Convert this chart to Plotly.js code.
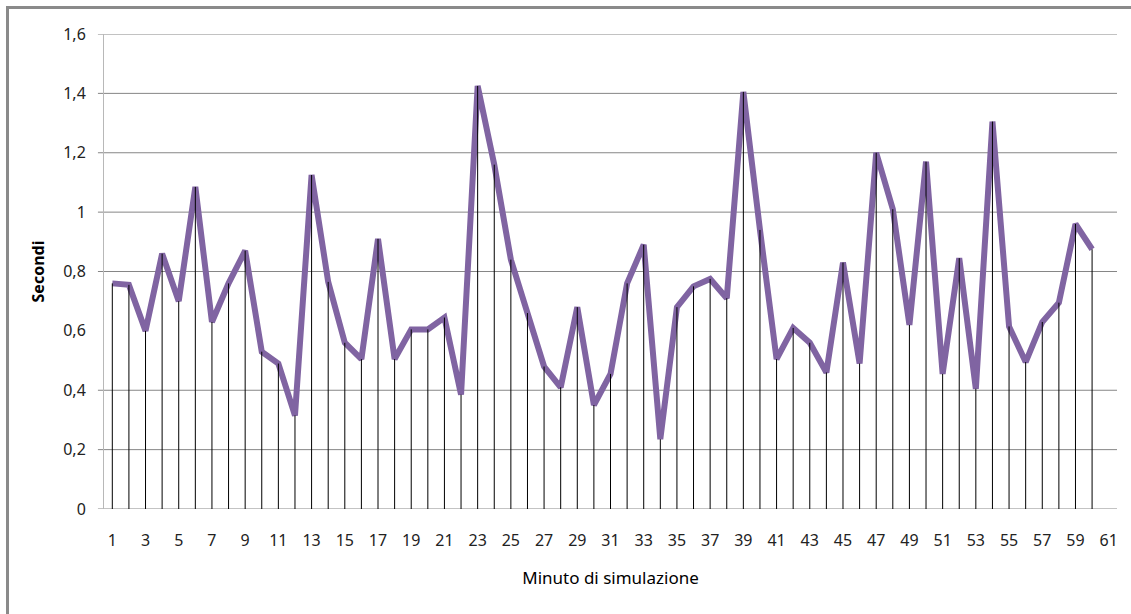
<!DOCTYPE html>
<html>
<head>
<meta charset="utf-8">
<script src="https://cdn.plot.ly/plotly-3.0.1.min.js"></script>
<style>
  html, body { margin: 0; padding: 0; background: #fff; }
  #wrap { position: relative; width: 1131px; height: 614px; }
  #chart { width: 1131px; height: 614px; }
  #frame { position: absolute; left: 6px; top: 6px; right: -10px; bottom: -10px;
           border-left: 3px solid #8a8a8a; border-top: 3px solid #8a8a8a; pointer-events: none; }
</style>
</head>
<body>
<div id="wrap">
  <div id="chart"></div>
  <div id="frame"></div>
</div>
<script>
const minutes = [1,2,3,4,5,6,7,8,9,10,11,12,13,14,15,16,17,18,19,20,
                 21,22,23,24,25,26,27,28,29,30,31,32,33,34,35,36,37,38,39,40,
                 41,42,43,44,45,46,47,48,49,50,51,52,53,54,55,56,57,58,59,60];
const seconds = [0.76,0.755,0.60,0.86,0.70,1.085,0.63,0.76,0.87,0.53,
                 0.49,0.315,1.125,0.765,0.56,0.505,0.91,0.505,0.605,0.605,
                 0.645,0.385,1.425,1.16,0.84,0.66,0.48,0.41,0.68,0.35,
                 0.455,0.76,0.89,0.235,0.68,0.75,0.775,0.71,1.405,0.94,
                 0.505,0.61,0.56,0.46,0.83,0.49,1.2,1.01,0.62,1.17,
                 0.455,0.845,0.405,1.305,0.615,0.495,0.63,0.695,0.96,0.875];
const xTickVals = [1,3,5,7,9,11,13,15,17,19,21,23,25,27,29,31,33,35,37,39,41,43,45,47,49,51,53,55,57,59,61];
const yTickVals = [0,0.2,0.4,0.6,0.8,1.0,1.2,1.4,1.6];
const yTickText = ["0","0,2","0,4","0,6","0,8","1","1,2","1,4","1,6"];
const gridVals = [0,0.2,0.4,0.8,1.0,1.2,1.4,1.6];

const font = '"Noto Sans", "Open Sans", sans-serif';

const lineTrace = {
  x: minutes, y: seconds, type: 'scatter', mode: 'lines',
  line: {color: '#8064A2', width: 6},
  hoverinfo: 'skip', showlegend: false
};
const dropTrace = {
  x: minutes, y: seconds, type: 'scatter', mode: 'markers',
  marker: {size: 1, color: 'rgba(0,0,0,0)'},
  error_y: {type: 'data', symmetric: false, array: seconds.map(() => 0),
            arrayminus: seconds, color: '#000000', thickness: 1, width: 0},
  hoverinfo: 'skip', showlegend: false
};

const shapes = gridVals.map(v => ({
  type: 'line', xref: 'paper', yref: 'y', x0: -0.006, x1: 1, y0: v, y1: v,
  line: {color: '#868686', width: 1}, layer: 'below'
}));

const layout = {
  width: 1131, height: 614,
  margin: {l: 104, r: 14, t: 34, b: 105},
  paper_bgcolor: '#ffffff', plot_bgcolor: '#ffffff',
  font: {family: font, size: 16, color: '#222'},
  xaxis: {
    range: [0.5, 61.5], tickmode: 'array', tickvals: xTickVals,
    ticktext: xTickVals.map(String), showgrid: false, zeroline: false,
    showline: false, ticks: '', ticklabelstandoff: 20,
    tickfont: {family: font, size: 16, color: '#222'},
    title: {text: 'Minuto di simulazione', standoff: 22,
            font: {family: font, size: 17, color: '#000'}}
  },
  yaxis: {
    range: [0, 1.6], tickmode: 'array', tickvals: yTickVals, ticktext: yTickText,
    showgrid: false, zeroline: false, showline: true, linecolor: '#b8b8b8', linewidth: 1,
    ticks: '', ticklabelstandoff: 14,
    tickfont: {family: font, size: 16, color: '#222'},
    title: {text: '<b>Secondi</b>', standoff: 14,
            font: {family: font, size: 16, color: '#000'}}
  },
  shapes: shapes
};

Plotly.newPlot('chart', [lineTrace, dropTrace], layout, {displayModeBar: false, staticPlot: true});
</script>
</body>
</html>
